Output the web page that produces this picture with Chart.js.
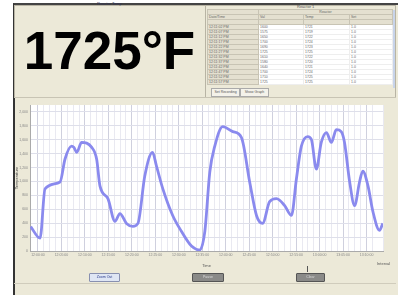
<!DOCTYPE html>
<html>
<head>
<meta charset="utf-8">
<script src="https://cdn.jsdelivr.net/npm/chart.js@4.4.1/dist/chart.umd.min.js"></script>
<style>
  body { margin: 0; width: 400px; height: 295px; background: #fff; overflow: hidden; font-family: "Liberation Sans", Arial, sans-serif; }
  #frame { position: absolute; left: 13px; top: 3px; width: 383px; height: 292px; background: #ece9d8; border-left: 2px solid #333; border-top: 2px solid #444; }
  .panel { position: absolute; border: 1px solid #b8b4a4; background: #ece9d8; }
  .tiny { position: absolute; font-size: 4px; color: #555; white-space: nowrap; }
  #big { position: absolute; left: 14px; top: 6px; width: 191px; height: 90px; line-height: 90px; text-align: center; font-weight: bold; font-size: 53px; color: #000; letter-spacing: 0px; }
  table { position: absolute; left: 207px; top: 9px; border-collapse: collapse; font-size: 3.5px; color: #666; }
  td { padding: 0 1px; height: 4px; line-height: 4px; border: 1px solid #c8c4b4; white-space: nowrap; overflow: hidden; }
  td.h { background: #e4e0d0; }
  td.w { background: #fff; border-color: #eee; }
  .btn { position: absolute; height: 7px; font-size: 3.5px; line-height: 7px; text-align: center; border-radius: 1px; }
  .tab { position: absolute; top: 88px; height: 7px; font-size: 3.5px; line-height: 7px; text-align: center; border: 1px solid #aaa; background: #f4f2ea; color: #555; }
  #wrap { position: absolute; left: 14px; top: 98px; width: 382px; height: 172px; }
</style>
</head>
<body>
<div id="frame"></div>
<div class="panel" style="left:14px;top:5px;width:190px;height:91px;"></div>
<div class="tiny" style="left:97px;top:1px;color:#335;">Reactor Temp</div>
<div id="big">1725°F</div>

<div class="panel" style="left:205px;top:5px;width:189px;height:91px;"></div>
<div class="tiny" style="left:297px;top:4px;">Reactor 1</div>
<div style="position:absolute;left:393px;top:10px;width:2px;height:78px;background:#c8d4ea;"></div>
<table id="log"></table>
<div class="tab" style="left:211px;width:27px;">Set Recording</div>
<div class="tab" style="left:240px;width:27px;">Show Graph</div>
<div style="position:absolute;left:14px;top:97px;width:382px;height:1px;background:#c8c4b4;"></div>

<div id="wrap"><canvas id="myChart" width="382" height="172"></canvas></div>
<div class="tiny" style="left:377px;top:261px;">Interval</div>
<div class="btn" style="left:89px;top:273px;width:29px;background:#dfe6f4;border:1px solid #8890b0;color:#2a3a8a;">Zoom Out</div>
<div class="btn" style="left:192px;top:273px;width:30px;background:#8a8a88;border:1px solid #555;color:#ddd;">Pause</div>
<div class="btn" style="left:296px;top:273px;width:27px;background:#8a8a88;border:1px solid #555;color:#ddd;">Clear</div>
<div style="position:absolute;left:307px;top:266px;width:1px;height:6px;background:#555;"></div>
<div style="position:absolute;left:14px;top:283px;width:382px;height:1px;background:#d0ccbc;"></div>

<script>
// trend data (x = tick interval, y = deg F)
var timeLabels = ['12:00:00','12:05:00','12:10:00','12:15:00','12:20:00','12:25:00','12:30:00','12:35:00',
                  '12:40:00','12:45:00','12:50:00','12:55:00','13:00:00','13:05:00','13:10:00'];
var xValues = [-0.31, 0.09, 0.30, 0.94, 1.15, 1.43, 1.53, 1.65, 1.86, 2.29, 2.50, 2.64, 2.98, 3.28, 3.49,
               3.77, 4.04, 4.26, 4.55, 4.88, 5.05, 5.32, 5.74, 6.11, 6.54, 6.89, 7.11, 7.32, 7.53, 7.87,
               8.30, 8.67, 9.02, 9.31, 9.57, 9.87, 10.16, 10.51, 10.80, 11.01, 11.22, 11.49, 11.65, 11.86,
               12.07, 12.29, 12.50, 12.71, 12.92, 13.06, 13.28, 13.49, 13.70, 13.84, 14.06, 14.27, 14.55, 14.69];
var tempValues = [350, 184, 894, 993, 1320, 1508, 1490, 1419, 1561, 1490, 1320, 936, 752, 426, 539,
                  397, 355, 397, 1078, 1419, 1220, 894, 511, 284, 71, 14, 284, 1135, 1504, 1788,
                  1717, 1632, 993, 511, 397, 709, 752, 653, 511, 1036, 1504, 1646, 1603, 1178,
                  1561, 1703, 1561, 1745, 1717, 1561, 993, 653, 993, 1149, 936, 568, 298, 397];

// table rows (time, value, temp, setpoint)
var logTimes = ['12:11:02 PM','12:11:07 PM','12:11:12 PM','12:11:17 PM','12:11:22 PM','12:11:27 PM',
                '12:11:32 PM','12:11:37 PM','12:11:42 PM','12:11:47 PM','12:11:52 PM','12:11:57 PM'];
var logVals = ['1600','1575','1650','1700','1690','1725','1610','1580','1640','1700','1710','1725'];
var logTemps = ['1721','1719','1722','1724','1723','1725','1722','1720','1721','1724','1725','1725'];
var logSets = ['1.0','1.0','1.0','1.0','1.0','1.0','1.0','1.0','1.0','1.0','1.0','1.0'];

var t = document.getElementById('log');
var html = '<tr><td class="h" style="width:48px"></td><td class="h" colspan="3" style="text-align:center">Reactor</td></tr>' +
    '<tr><td class="h">Date/Time</td><td class="h" style="width:42px">Val</td><td class="h" style="width:43px">Temp</td><td class="h" style="width:40px">Set</td></tr>' +
    '<tr><td class="h">&nbsp;</td><td class="h">&nbsp;</td><td class="h">&nbsp;</td><td class="h">&nbsp;</td></tr>';
for (var i = 0; i < logTimes.length; i++) {
    html += '<tr><td class="h">' + logTimes[i] + '</td><td class="w">' + logVals[i] + '</td><td class="w">' +
        logTemps[i] + '</td><td class="w">' + logSets[i] + '</td></tr>';
}
t.innerHTML = html;

var points = xValues.map(function(x, i) { return {x: x, y: tempValues[i]}; });
var ctx = document.getElementById('myChart').getContext('2d');

var plotBg = {
    id: 'plotBg',
    beforeDraw: function(chart) {
        var a = chart.chartArea, c = chart.ctx;
        c.save();
        c.fillStyle = '#ffffff';
        c.fillRect(a.left, a.top, a.right - a.left, a.bottom - a.top);
        c.restore();
    }
};

var myChart = new Chart(ctx, {
    type: 'line',
    data: {
        datasets: [{
            label: 'Reactor Temp',
            data: points,
            borderColor: '#8a8aee',
            borderWidth: 2.8,
            pointRadius: 0,
            cubicInterpolationMode: 'monotone',
            fill: false
        }]
    },
    options: {
        responsive: false,
        animation: false,
        layout: { padding: { top: 7, right: 13, left: 0, bottom: 0 } },
        plugins: { legend: { display: false }, tooltip: { enabled: false } },
        scales: {
            x: {
                type: 'linear',
                min: -0.34,
                max: 14.7,
                afterFit: function(s) { s.height = 19; },
                border: { color: '#aaa' },
                grid: {
                    color: function(c) { return Number.isInteger(c.tick.value) ? '#cfd0de' : '#e9e9f1'; },
                    drawTicks: false
                },
                ticks: {
                    stepSize: 0.25,
                    autoSkip: false,
                    maxRotation: 0,
                    padding: 2,
                    color: '#888',
                    font: { size: 3.5 },
                    callback: function(v) { return Number.isInteger(v) && v >= 0 ? timeLabels[v] : ''; }
                },
                title: { display: true, text: 'Time', color: '#555', font: { size: 4 }, padding: 2 }
            },
            y: {
                min: 0,
                max: 2100,
                afterFit: function(s) { s.width = 16; },
                border: { color: '#aaa' },
                grid: { color: '#dedfea', drawTicks: false },
                ticks: {
                    stepSize: 100,
                    padding: 2,
                    color: '#888',
                    font: { size: 3.5 }
                },
                title: { display: true, text: 'Temperature', color: '#444', font: { size: 4 }, padding: 0 }
            }
        }
    },
    plugins: [plotBg]
});
</script>
</body>
</html>
